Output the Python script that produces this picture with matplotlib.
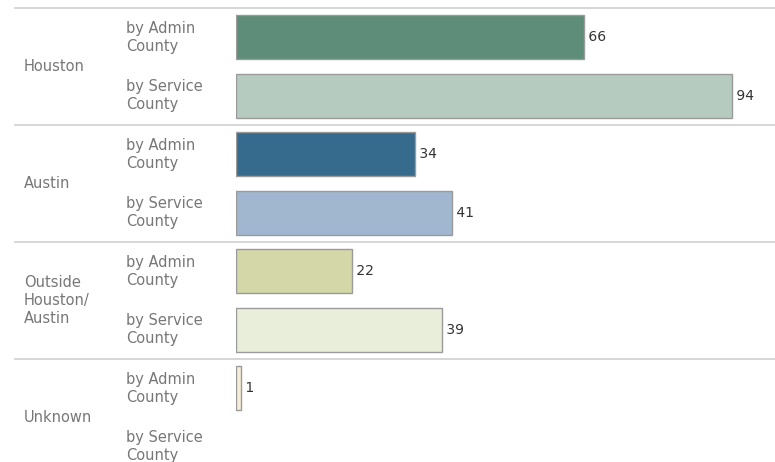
import numpy as np
import matplotlib.pyplot as plt
from matplotlib.transforms import blended_transform_factory

groups = ["Houston", "Austin", "Outside\nHouston/\nAustin", "Unknown"]
measures = ["by Admin\nCounty", "by Service\nCounty"]
values = [66, 94, 34, 41, 22, 39, 1, None]
colors = ["#5e8d7a", "#b5cbc0", "#376b8e", "#a0b7cf",
          "#d4d8a8", "#e9eedb", "#f6eed8", "#ffffff"]

fig = plt.figure(figsize=(7.75, 4.62), dpi=100)
W, H = 775, 462
ax = fig.add_axes([236 / W, 0, 1 - 236 / W, 1 - 8 / H])

row_h = 58.5
nrows = (H - 8) / row_h
ax.set_ylim(nrows - 0.5, -0.5)
ax.set_xlim(0, (W - 236) / ((732 - 236) / 94))

ypos = np.arange(len(values))
for y, v, c in zip(ypos, values, colors):
    if v is None:
        continue
    ax.barh(y, v, height=0.75, color=c, edgecolor="#9a9a9a", linewidth=1)
    ax.text(v, y, " " + str(v), va="center", ha="left", fontsize=10,
            color="#333333")

trans = blended_transform_factory(fig.transFigure, ax.transData)
for g in range(len(groups)):
    top = 2 * g - 0.5
    ax.plot([15 / W, 1], [top, top], transform=trans, color="#cfcfcf",
            linewidth=1.2, clip_on=False)
    ax.text(24 / W, 2 * g + 0.5, groups[g], transform=trans, ha="left",
            va="center", fontsize=10.5, color="#777777", linespacing=1.22)
    for m in range(2):
        ax.text(126 / W, 2 * g + m, measures[m], transform=trans, ha="left",
                va="center", fontsize=10.5, color="#777777", linespacing=1.22)

ax.axis("off")
fig.savefig("out.png", dpi=100)
